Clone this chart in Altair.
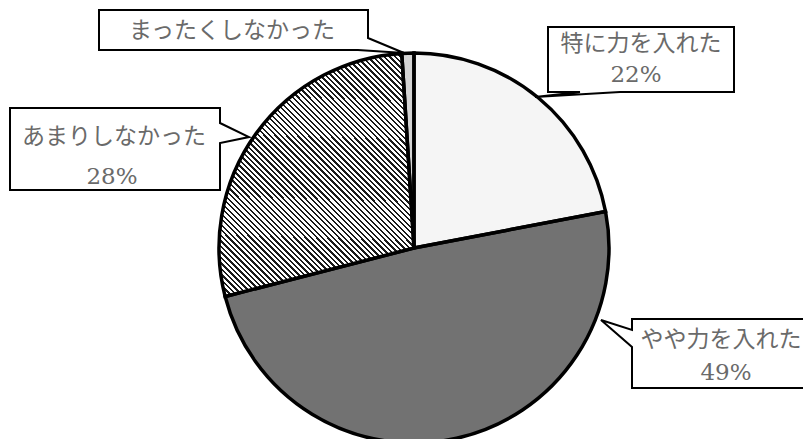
import altair as alt
import pandas as pd

# ---- data ----
categories = ["特に力を入れた", "やや力を入れた", "あまりしなかった", "まったくしなかった"]
values = [22, 49, 28, 1]
pct_labels = ["22%", "49%", "28%", ""]
fills = ["#f5f5f5", "#727272", "#9c9c9c", "#d4d4d4"]
hatched = "あまりしなかった"

# ---- layout (page pixel coordinates) ----
OFF = 8
CX, CY, R = 414 - OFF, 248 - OFF, 195

# callout outlines: box with a pointer tail
callout_polys = [
    [(548, 27), (734, 27), (734, 92), (620, 92), (535, 97), (580, 92), (548, 92)],
    [(632, 319), (808, 319), (808, 388), (632, 388), (632, 347), (601, 320), (632, 330)],
    [(10, 108), (220, 108), (220, 123), (249, 137), (220, 143), (220, 190), (10, 190)],
    [(99, 10), (368, 10), (368, 38), (404, 53), (358, 50), (99, 50)],
]
name_pos = [(641, 44), (721, 340), (114, 137), (232, 31)]
pct_pos = [(636, 75), (726, 373), (112, 177), (0, 0)]

# diagonal hatch built as a striped linear gradient (style only)
stops = []
n_periods = 175
dark_frac = 0.42
for k in range(n_periods):
    a = k / n_periods
    b = (k + dark_frac) / n_periods
    c = (k + 1) / n_periods
    stops += [
        alt.GradientStop(color="#1a1a1a", offset=a),
        alt.GradientStop(color="#1a1a1a", offset=b),
        alt.GradientStop(color="#ffffff", offset=b),
        alt.GradientStop(color="#ffffff", offset=c),
    ]
hatch = alt.LinearGradient(gradient="linear", stops=stops,
                           x1=-0.472, y1=1.706, x2=1.472, y2=-0.706)

pie_df = pd.DataFrame({"cat": categories, "value": values, "idx": list(range(len(values)))})

base = alt.Chart(pie_df).encode(
    theta=alt.Theta("value:Q", stack=True),
    order=alt.Order("idx:Q"),
    x=alt.value(CX),
    y=alt.value(CY),
)

pie_fill = base.mark_arc(radius=R, strokeWidth=0).encode(
    color=alt.Color("cat:N", scale=alt.Scale(domain=categories, range=fills), legend=None),
)

pie_hatch = base.mark_arc(
    radius=R, fill=hatch, stroke="black", strokeWidth=3.5, strokeJoin="miter"
).encode(
    fillOpacity=alt.condition(f"datum.cat == '{hatched}'", alt.value(1), alt.value(0)),
)

features = []
for poly in callout_polys:
    coords = [[float(x - OFF), float(y - OFF)] for x, y in poly]
    coords.append(coords[0])
    features.append({
        "type": "Feature",
        "properties": {},
        "geometry": {"type": "Polygon", "coordinates": [coords]},
    })

boxes = alt.Chart(
    alt.InlineData(values=features, format=alt.DataFormat(type="json"))
).mark_geoshape(
    fill="white", stroke="black", strokeWidth=2, strokeJoin="miter"
).project(type="identity", scale=1, translate=[0, 0])

name_df = pd.DataFrame({
    "t": categories,
    "x": [p[0] - OFF for p in name_pos],
    "y": [p[1] - OFF for p in name_pos],
})
pct_df = pd.DataFrame({
    "t": pct_labels[:3],
    "x": [p[0] - OFF for p in pct_pos[:3]],
    "y": [p[1] - OFF for p in pct_pos[:3]],
})

names = alt.Chart(name_df).mark_text(
    font="Noto Sans CJK JP", fontSize=23, color="#6a6a6a", baseline="middle", align="center"
).encode(
    x=alt.X("x:Q", scale=None, axis=None),
    y=alt.Y("y:Q", scale=None, axis=None),
    text="t:N",
)

pcts = alt.Chart(pct_df).mark_text(
    font="DejaVu Serif", fontSize=23, color="#6a6a6a", baseline="middle", align="center"
).encode(
    x=alt.X("x:Q", scale=None, axis=None),
    y=alt.Y("y:Q", scale=None, axis=None),
    text="t:N",
)

chart = alt.layer(pie_fill, pie_hatch, boxes, names, pcts).properties(
    width=795, height=431,
    autosize=alt.AutoSizeParams(type="none"),
    padding=0,
).configure_view(stroke=None)

chart.save("out.html", embed_options={"renderer": "svg", "actions": False})
